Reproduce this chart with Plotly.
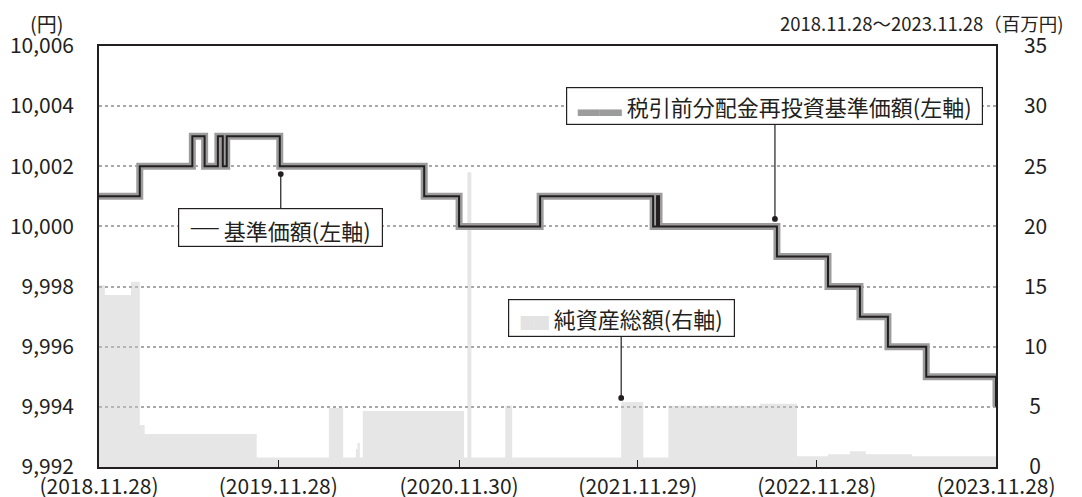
import plotly.graph_objects as go

# ---- data ----
nav_dates = ["2018-11-28", "2019-02-19", "2019-06-06", "2019-07-01", "2019-07-28",
             "2019-08-07", "2019-08-15", "2019-12-01", "2020-09-20", "2020-11-30",
             "2021-05-14", "2021-12-30", "2022-01-07", "2022-01-11", "2022-09-08",
             "2022-12-21", "2023-02-24", "2023-04-22", "2023-07-09", "2023-11-28"]
nav_values = [10001, 10002, 10003, 10002, 10003,
              10002, 10003, 10002, 10001, 10000,
              10001, 10000, 10001, 10000, 9999,
              9998, 9997, 9996, 9995, 9994]
reinvest_values = list(nav_values)

asset_dates = ["2018-11-28", "2018-12-10", "2019-02-01", "2019-02-19", "2019-03-01",
               "2019-10-15", "2020-03-10", "2020-04-08", "2020-05-04", "2020-05-07",
               "2020-05-12", "2020-05-18", "2020-12-10", "2020-12-17", "2020-12-25",
               "2021-03-04", "2021-03-18", "2021-10-26", "2021-12-10", "2022-01-30",
               "2022-08-05", "2022-10-19", "2022-12-21", "2023-02-04", "2023-03-08",
               "2023-06-10", "2023-11-28"]
asset_values = [15.1, 14.3, 15.4, 3.5, 2.75,
                0.8, 4.9, 0.8, 1.5, 2.0,
                0.8, 4.65, 0.8, 24.5, 0.8,
                5.1, 0.8, 5.4, 0.8, 5.1,
                5.25, 0.9, 1.05, 1.3, 1.05,
                0.9, 0.9]

x_tick_dates = ["2018-11-28", "2019-11-28", "2020-11-30", "2021-11-29", "2022-11-28", "2023-11-28"]
x_tick_text = ["(2018.11.28)", "(2019.11.28)", "(2020.11.30)", "(2021.11.29)", "(2022.11.28)", "(2023.11.28)"]
yen_ticks = [9992, 9994, 9996, 9998, 10000, 10002, 10004, 10006]
asset_ticks = [0, 5, 10, 15, 20, 25, 30, 35]
asset_tick_text = ["\u20050", "\u20055", "10", "15", "20", "25", "30", "35"]

FONT = "Noto Sans CJK JP"
TXT = "#231f20"

fig = go.Figure()

fig.add_trace(go.Scatter(
    x=asset_dates, y=asset_values, yaxis="y", mode="lines",
    line=dict(width=0, shape="hv"), fill="tozeroy",
    fillcolor="rgba(200,200,200,0.45)", hoverinfo="skip", showlegend=False))

fig.add_trace(go.Scatter(
    x=nav_dates, y=reinvest_values, yaxis="y2", mode="lines",
    line=dict(width=7, shape="hv", color="#9c9c9c"), hoverinfo="skip", showlegend=False))

fig.add_trace(go.Scatter(
    x=nav_dates, y=nav_values, yaxis="y2", mode="lines",
    line=dict(width=2, shape="hv", color=TXT), hoverinfo="skip", showlegend=False))

fig.update_layout(
    width=1082, height=497,
    margin=dict(l=99, r=86, t=46, b=30),
    paper_bgcolor="white", plot_bgcolor="white",
    font=dict(family=FONT, size=21, color=TXT),
    showlegend=False, hovermode=False,
    xaxis=dict(type="date", range=["2018-11-28", "2023-11-28"],
               tickvals=x_tick_dates, ticktext=x_tick_text, automargin=False,
               ticks="inside", ticklen=7, tickwidth=1.2, tickcolor=TXT,
               showgrid=False, showline=True, linecolor=TXT, linewidth=1.5,
               mirror=True, tickfont=dict(size=21), zeroline=False),
    yaxis=dict(range=[0, 35], tickvals=asset_ticks, ticktext=asset_tick_text,
               side="right", showgrid=False, zeroline=False, automargin=False,
               showline=True, linecolor=TXT, linewidth=1.5, mirror=True,
               ticks="", ticklabelstandoff=22, tickfont=dict(size=21)),
    yaxis2=dict(range=[9992, 10006], tickvals=yen_ticks, tickformat=",",
                overlaying="y", side="left", showgrid=True, automargin=False,
                gridcolor="#a8a8a8", griddash="dot", gridwidth=1.5,
                zeroline=False, ticks="", ticklabelstandoff=24,
                showline=False, tickfont=dict(size=21)),
)

annotations = [
    dict(text="(円)", xref="paper", yref="paper", x=-0.058, y=1.054,
         xanchor="center", yanchor="middle", showarrow=False, font=dict(size=20)),
    dict(text="2018.11.28～2023.11.28（百万円)", xref="paper", yref="paper",
         x=1.0775, y=1.054, xanchor="right", yanchor="middle", showarrow=False,
         font=dict(size=18.5)),
    dict(text="<span style='font-size:28px'>─</span> 基準価額(左軸)",
         xref="x", yref="y2", x="2019-12-03", y=10001.74,
         ax=0, ay=53, showarrow=True, arrowhead=6, arrowsize=1.2, arrowwidth=1.2,
         arrowcolor=TXT, bgcolor="white", bordercolor=TXT, borderwidth=1.2,
         borderpad=0, width=203, height=37, font=dict(size=22)),
    dict(text="<span style='color:#9c9c9c'>▬▬</span> 税引前分配金再投資基準価額(左軸)",
         xref="x", yref="y2", x="2022-09-04", y=10000.25,
         ax=0, ay=-113, showarrow=True, arrowhead=6, arrowsize=1.2, arrowwidth=1.2,
         arrowcolor=TXT, bgcolor="white", bordercolor=TXT, borderwidth=1.2,
         borderpad=0, width=415, height=36, font=dict(size=22)),
    dict(text="<span style='color:#e3e3e3;font-size:14px'>██</span> 純資産総額(右軸)",
         xref="x", yref="y", x="2021-10-26", y=5.74,
         ax=0, ay=-80, showarrow=True, arrowhead=6, arrowsize=1.2, arrowwidth=1.2,
         arrowcolor=TXT, bgcolor="white", bordercolor=TXT, borderwidth=1.2,
         borderpad=0, width=225, height=36, font=dict(size=22)),
]
fig.update_layout(annotations=annotations)

fig.write_html("out.html", config={"displayModeBar": False},
               post_script="document.body.style.margin='0';document.body.style.padding='0';")
